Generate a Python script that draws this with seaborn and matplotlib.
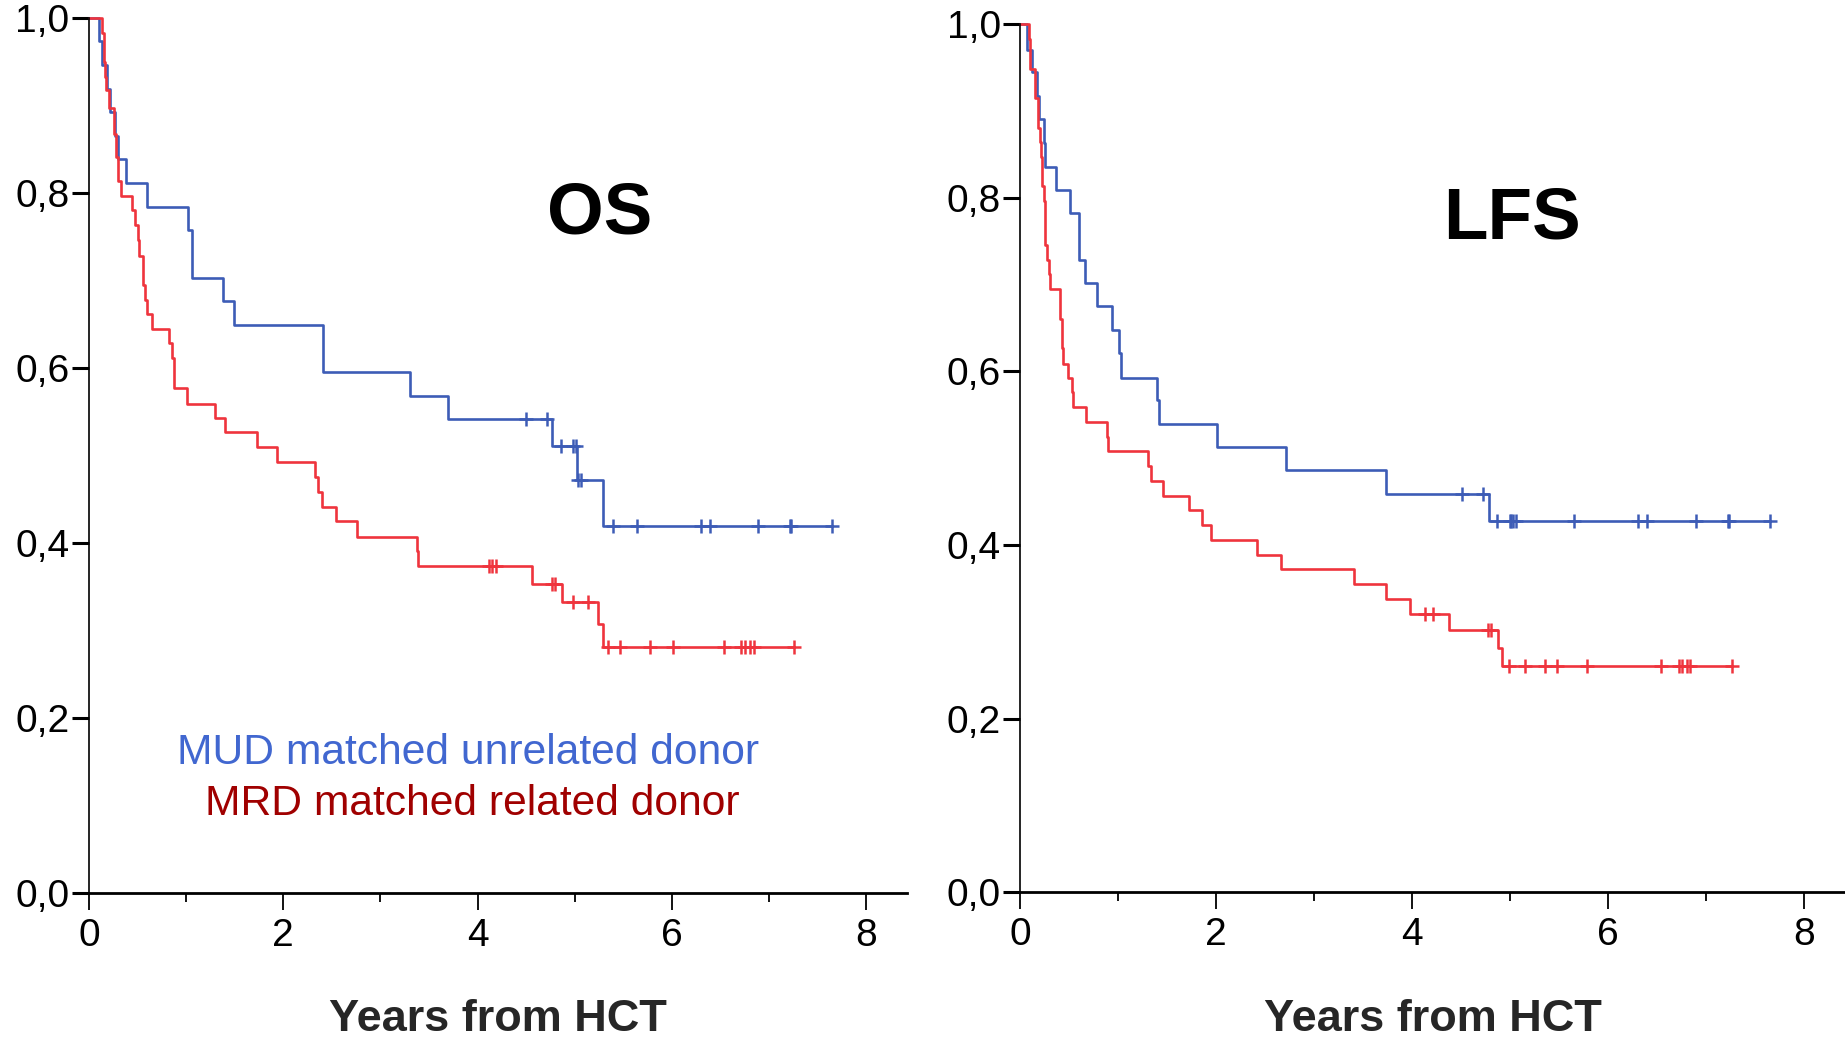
import numpy as np
import pandas as pd
import matplotlib
matplotlib.use("Agg")
import matplotlib.pyplot as plt
from matplotlib.ticker import FixedLocator, FuncFormatter
import seaborn as sns

# ---------------- data: Kaplan-Meier step points (years, survival) ----------------
# Overall survival (OS)
os_mud_t = [0.106, 0.130, 0.185, 0.219, 0.271, 0.301, 0.384, 0.593, 1.018, 1.060,
            1.375, 1.488, 2.414, 3.309, 3.697, 4.771, 5.028, 5.296]
os_mud_s = [0.973, 0.946, 0.919, 0.892, 0.865, 0.838, 0.811, 0.784, 0.757, 0.703,
            0.676, 0.649, 0.595, 0.568, 0.541, 0.511, 0.472, 0.419]
os_mud_cens = [4.503, 4.713, 4.857, 4.980, 5.011, 5.035, 5.060, 5.398, 5.639,
               6.300, 6.390, 6.887, 7.216, 7.230, 7.645]

os_mrd_t = [0.134, 0.152, 0.165, 0.175, 0.203, 0.254, 0.278, 0.296, 0.330, 0.443,
            0.477, 0.501, 0.519, 0.553, 0.580, 0.597, 0.649, 0.827, 0.855, 0.879,
            1.009, 1.297, 1.400, 1.729, 1.935, 2.322, 2.357, 2.398, 2.545, 2.754,
            3.375, 3.392, 4.560, 4.867, 5.244, 5.296]
os_mrd_s = [0.983, 0.949, 0.932, 0.917, 0.897, 0.867, 0.841, 0.813, 0.796, 0.780,
            0.763, 0.746, 0.728, 0.694, 0.677, 0.661, 0.644, 0.628, 0.611, 0.577,
            0.559, 0.543, 0.526, 0.509, 0.492, 0.475, 0.458, 0.441, 0.425, 0.407,
            0.390, 0.373, 0.353, 0.332, 0.307, 0.281]
os_mrd_cens = [4.119, 4.153, 4.194, 4.771, 4.798, 4.984, 5.141, 5.347, 5.467,
               5.773, 6.012, 6.537, 6.715, 6.750, 6.801, 6.846, 7.257]

# Leukemia-free survival (LFS)
lfs_mud_t = [0.063, 0.114, 0.166, 0.189, 0.245, 0.251, 0.363, 0.506, 0.601, 0.663,
             0.782, 0.935, 1.003, 1.026, 1.391, 1.419, 2.012, 2.712, 3.730, 4.783]
lfs_mud_s = [0.971, 0.945, 0.917, 0.891, 0.863, 0.836, 0.809, 0.783, 0.729, 0.702,
             0.675, 0.648, 0.621, 0.593, 0.567, 0.540, 0.513, 0.486, 0.459, 0.428]
lfs_mud_cens = [4.511, 4.722, 4.862, 4.998, 5.012, 5.029, 5.057, 5.652, 6.307,
                6.402, 6.897, 7.221, 7.238, 7.657]

lfs_mrd_t = [0.090, 0.095, 0.100, 0.148, 0.152, 0.176, 0.180, 0.199, 0.210, 0.215,
             0.220, 0.243, 0.247, 0.251, 0.255, 0.267, 0.290, 0.300, 0.404, 0.408,
             0.424, 0.428, 0.438, 0.487, 0.522, 0.534, 0.668, 0.885, 0.898, 1.305,
             1.336, 1.458, 1.726, 1.858, 1.945, 2.411, 2.659, 3.405, 3.736, 3.975,
             4.376, 4.876, 4.913]
lfs_mrd_s = [0.983, 0.966, 0.949, 0.932, 0.915, 0.898, 0.881, 0.864, 0.847, 0.831,
             0.814, 0.797, 0.780, 0.763, 0.746, 0.729, 0.712, 0.695, 0.678, 0.661,
             0.644, 0.627, 0.609, 0.592, 0.576, 0.559, 0.542, 0.525, 0.508, 0.491,
             0.474, 0.457, 0.440, 0.423, 0.406, 0.389, 0.372, 0.355, 0.338, 0.321,
             0.302, 0.281, 0.260]
lfs_mrd_cens = [4.135, 4.208, 4.775, 4.805, 4.993, 5.150, 5.360, 5.478, 5.784,
                6.545, 6.728, 6.752, 6.809, 6.841, 7.262]

x_ticks = [0, 2, 4, 6, 8]
x_minor = [1, 3, 5, 7]
y_ticks = [0.0, 0.2, 0.4, 0.6, 0.8, 1.0]
panel_titles = ["OS", "LFS"]
x_label = "Years from HCT"
legend_mud = "MUD matched unrelated donor"
legend_mrd = "MRD matched related donor"

# ---------------- style ----------------
sns.set_style("ticks")
plt.rcParams["font.family"] = ["Liberation Sans", "DejaVu Sans"]

BLUE = "#3d5cb6"
RED = "#ef343d"
BLUE_TXT = "#4167d0"
RED_TXT = "#a00000"

fig = plt.figure(figsize=(18.45, 10.37), dpi=100)
ax_os = fig.add_axes([0.0482, 0.1392, 0.4434, 0.8437])
ax_lfs = fig.add_axes([0.5531, 0.1398, 0.4469, 0.8366])


def km_frame(times, surv, cens):
    end = max(cens) if cens else times[-1]
    return pd.DataFrame({"t": [0.0] + list(times) + [end],
                         "s": [1.0] + list(surv) + [surv[-1]]})


def level_at(times, surv, t):
    idx = np.searchsorted(np.asarray(times), t, side="right") - 1
    return 1.0 if idx < 0 else surv[idx]


def draw_curve(ax, times, surv, cens, color):
    df = km_frame(times, surv, cens)
    sns.lineplot(data=df, x="t", y="s", ax=ax, estimator=None, sort=False,
                 drawstyle="steps-post", color=color, lw=1.9)
    ax.lines[-1].set_clip_on(False)
    cdf = pd.DataFrame({"t": cens, "s": [level_at(times, surv, c) for c in cens]})
    sns.scatterplot(data=cdf, x="t", y="s", ax=ax, marker="+", s=110,
                    color=color, linewidth=1.8, zorder=5, clip_on=False)


def style_axes(ax):
    ax.set_xlim(0, 8.42)
    ax.set_ylim(0, 1.0)
    ax.xaxis.set_major_locator(FixedLocator(x_ticks))
    ax.xaxis.set_minor_locator(FixedLocator(x_minor))
    ax.yaxis.set_major_locator(FixedLocator(y_ticks))
    ax.yaxis.set_major_formatter(FuncFormatter(lambda v, p: f"{v:.1f}".replace(".", ",")))
    ax.xaxis.set_major_formatter(FuncFormatter(lambda v, p: f"{v:.0f}"))
    for side in ("top", "right"):
        ax.spines[side].set_visible(False)
    ax.spines["left"].set_linewidth(1.2)
    ax.spines["bottom"].set_linewidth(2.0)
    ax.spines["left"].set_color("black")
    ax.spines["bottom"].set_color("black")
    ax.tick_params(axis="y", which="major", length=12, width=2.2, pad=2,
                   labelsize=28, colors="black")
    ax.tick_params(axis="x", which="major", length=12, width=1.3, pad=6,
                   labelsize=28, colors="black")
    ax.tick_params(axis="x", which="minor", length=6.5, width=1.3, colors="black")
    ax.set_xlabel("")
    ax.set_ylabel("")
    ax.set_facecolor("white")


draw_curve(ax_os, os_mud_t, os_mud_s, os_mud_cens, BLUE)
draw_curve(ax_os, os_mrd_t, os_mrd_s, os_mrd_cens, RED)
draw_curve(ax_lfs, lfs_mud_t, lfs_mud_s, lfs_mud_cens, BLUE)
draw_curve(ax_lfs, lfs_mrd_t, lfs_mrd_s, lfs_mrd_cens, RED)

for ax in (ax_os, ax_lfs):
    style_axes(ax)

ax_os.text(5.26, 0.7536, panel_titles[0], ha="center", va="baseline",
           fontsize=52.5, fontweight="bold", color="black")
ax_lfs.text(5.015, 0.753, panel_titles[1], ha="center", va="baseline",
            fontsize=52.5, fontweight="bold", color="black")

ax_os.text(0.1072, 0.147, legend_mud, transform=ax_os.transAxes, ha="left",
           va="baseline", fontsize=30.7, color=BLUE_TXT)
ax_os.text(0.1418, 0.0888, legend_mrd, transform=ax_os.transAxes, ha="left",
           va="baseline", fontsize=30.7, color=RED_TXT)

for ax in (ax_os, ax_lfs):
    pos = ax.get_position()
    fig.text((pos.x0 + pos.x1) / 2, (1037 - 1031) / 1037, x_label,
             ha="center", va="baseline", fontsize=32.5, fontweight="bold")

fig.savefig("out.png", dpi=100, facecolor="white")
